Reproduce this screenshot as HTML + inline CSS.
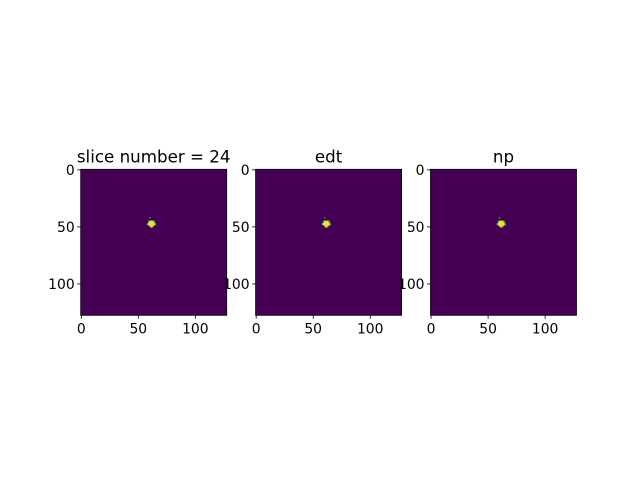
<!DOCTYPE html>
<html><head><meta charset="utf-8"><style>
body{margin:0;background:#fff}
svg{display:block;font-family:"DejaVu Sans","Liberation Sans",sans-serif}
</style></head><body>
<svg id="fig" width="640" height="480" viewBox="0 0 640 480"></svg>
<script>
const titles = ["slice number = 24", "edt", "np"];
const tickValues = [0, 50, 100];
const gridSize = 128;
const blobCols = [60, 59,60,61,62,63,64, 59,60,61,62,63,64, 58,59,60,61,62,63,64,65, 58,59,60,61,62,63,64,65, 60,61,62,63, 61,62];
const blobRows = [42, 45,45,45,45,45,45, 46,46,46,46,46,46, 47,47,47,47,47,47,47,47, 48,48,48,48,48,48,48,48, 49,49,49,49, 50,50];
const blobVals = [0.6, 0.5,1,1,1,1,0.5, 0.6,1,1,1,1,0.7, 0.5,1,1,1,1,1,1,0.5, 0.6,1,1,1,1,1,1,0.6, 1,1,1,1, 0.85,0.85];
const panelX = [80.7, 255.6, 430.5];
const topY = 169.3, size = 146;
const NS = "http://www.w3.org/2000/svg";
const svg = document.getElementById("fig");
function color(v){ if(v>=0.95) return "#fde725"; if(v>=0.8) return "#b5de2b"; if(v>=0.55) return "#35b779"; return "#21918c"; }
function mk(tag, attrs, parent){ const e=document.createElementNS(NS,tag); for(const k in attrs) e.setAttribute(k,attrs[k]); (parent||svg).appendChild(e); return e; }
panelX.forEach((x0, p) => {
  const s = size / gridSize;
  const sx = v => x0 + (v + 0.5) * s;
  const sy = v => topY + (v + 0.5) * s;
  const g = mk("g", {});
  
  
  const bg = mk("rect", {x:x0, y:topY, width:size, height:size, fill:"#440154"}, g);
  
  
  blobCols.forEach((c, i) => {
    const r = mk("rect", {x:x0 + c*s, y:topY + blobRows[i]*s, width:s+0.15, height:s+0.15, fill:color(blobVals[i])}, g);
    
    
  });
  const fr = mk("rect", {x:x0, y:topY, width:size, height:size, fill:"none", stroke:"#000", "stroke-width":0.8}, g);
  
  
  tickValues.forEach(t => {
    mk("line", {x1:sx(t), x2:sx(t), y1:topY+size, y2:topY+size+3.5, stroke:"#000", "stroke-width":0.8}, g);
    const tx = mk("text", {x:sx(t), y:topY+size+18, "text-anchor":"middle", "font-size":13.9}, g);
    tx.textContent = t;
    
    
    mk("line", {x1:x0, x2:x0-3.5, y1:sy(t), y2:sy(t), stroke:"#000", "stroke-width":0.8}, g);
    const ty = mk("text", {x:x0-6, y:sy(t)+5, "text-anchor":"end", "font-size":13.9}, g);
    ty.textContent = t;
    
    
  });
  const tt = mk("text", {x:x0+size/2, y:topY-7, "text-anchor":"middle", "font-size":16.7}, g);
  tt.textContent = titles[p];
  
  
});
</script>
</body></html>
